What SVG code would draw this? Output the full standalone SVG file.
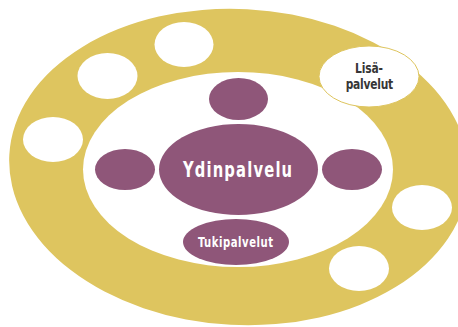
<svg xmlns="http://www.w3.org/2000/svg" width="458" height="327" viewBox="0 0 458 327">
<style>
.gold{fill:#DEC55F}
.hole{fill:#FFFFFF}
.core{fill:#8F5679}
.wt{fill:#FFFFFF;font-family:"DejaVu Sans Condensed","DejaVu Sans",sans-serif;font-stretch:condensed;font-weight:bold;text-anchor:middle}
.dt{fill:#363636;font-family:"DejaVu Sans Condensed","DejaVu Sans",sans-serif;font-stretch:condensed;font-weight:bold;text-anchor:middle;font-size:14px}
</style>
<rect width="458" height="327" fill="#FFFFFF"/>
<g id="outer-ring">
<ellipse class="gold" cx="239" cy="167" rx="230" ry="158" transform="rotate(3 239 167)"/>
</g>
<g id="inner-area">
<ellipse class="hole" cx="238" cy="169.5" rx="155" ry="97.5"/>
</g>
<g id="extra-1"><ellipse class="hole" cx="184" cy="44.5" rx="29.5" ry="22.5"/></g>
<g id="extra-2"><ellipse class="hole" cx="107.5" cy="76" rx="30" ry="23"/></g>
<g id="extra-3"><ellipse class="hole" cx="53" cy="139.5" rx="30" ry="22.5"/></g>
<g id="extra-4"><ellipse class="hole" cx="422" cy="207.5" rx="30" ry="22.5"/></g>
<g id="extra-5"><ellipse class="hole" cx="359" cy="268.5" rx="30" ry="22.5"/></g>
<g id="lisapalvelut">
<ellipse cx="369" cy="76.5" rx="50" ry="30.5" fill="#FFFFFF" stroke="#DEC55F" stroke-width="1"/>
<g transform="translate(369 0) scale(0.85 1)">
<text class="dt" x="0" y="73" textLength="33" lengthAdjust="spacing">Lisä-</text>
<text class="dt" x="0.5" y="89.5" textLength="56" lengthAdjust="spacing">palvelut</text>
</g>
</g>
<g id="top-node"><ellipse class="core" cx="238.5" cy="99" rx="29.5" ry="21"/></g>
<g id="left-node"><ellipse class="core" cx="125" cy="169.5" rx="30" ry="20.5"/></g>
<g id="right-node"><ellipse class="core" cx="352" cy="169.5" rx="30" ry="20.5"/></g>
<g id="ydinpalvelu">
<ellipse class="core" cx="238.5" cy="169.5" rx="79.5" ry="45.5"/>
<g transform="translate(237.5 0) scale(0.78 1)">
<text class="wt" x="0" y="177" font-size="21" textLength="140" lengthAdjust="spacing">Ydinpalvelu</text>
</g>
</g>
<g id="tukipalvelut">
<ellipse class="core" cx="236" cy="242" rx="53" ry="23"/>
<g transform="translate(235.5 0) scale(0.8 1)">
<text class="wt" x="0" y="247" font-size="14" textLength="94" lengthAdjust="spacing">Tukipalvelut</text>
</g>
</g>
<g id="connectors"/>
</svg>
